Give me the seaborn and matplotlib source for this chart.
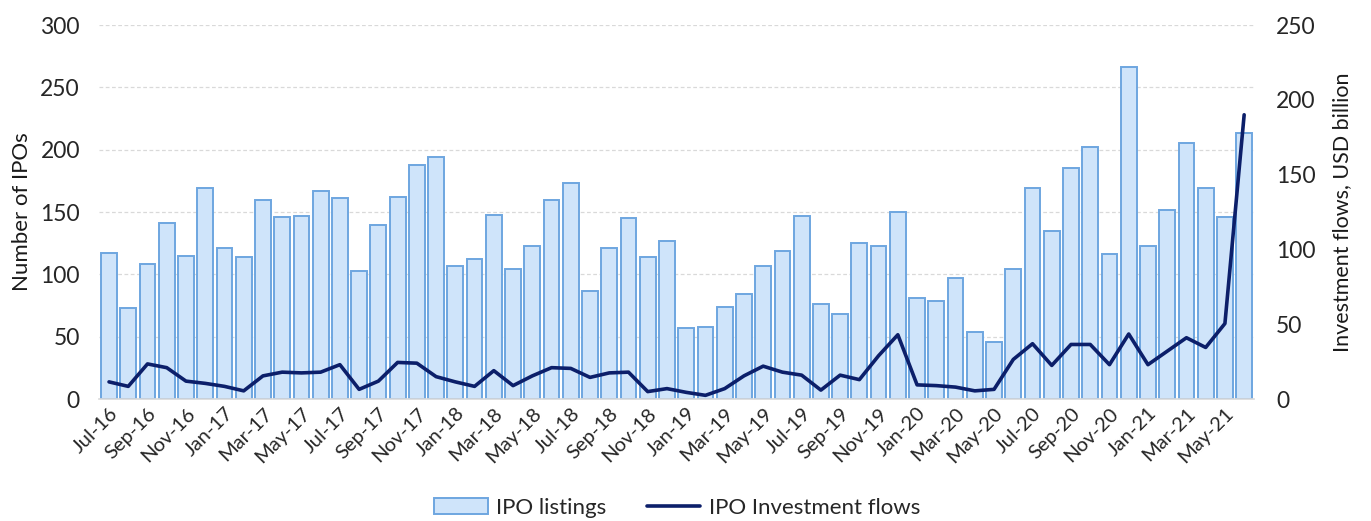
import numpy as np
import pandas as pd
import matplotlib
matplotlib.use("Agg")
import matplotlib.pyplot as plt
import seaborn as sns
from matplotlib.patches import Patch
from matplotlib.lines import Line2D

months = ["Jul-16", "Aug-16", "Sep-16", "Oct-16", "Nov-16", "Dec-16",
          "Jan-17", "Feb-17", "Mar-17", "Apr-17", "May-17", "Jun-17",
          "Jul-17", "Aug-17", "Sep-17", "Oct-17", "Nov-17", "Dec-17",
          "Jan-18", "Feb-18", "Mar-18", "Apr-18", "May-18", "Jun-18",
          "Jul-18", "Aug-18", "Sep-18", "Oct-18", "Nov-18", "Dec-18",
          "Jan-19", "Feb-19", "Mar-19", "Apr-19", "May-19", "Jun-19",
          "Jul-19", "Aug-19", "Sep-19", "Oct-19", "Nov-19", "Dec-19",
          "Jan-20", "Feb-20", "Mar-20", "Apr-20", "May-20", "Jun-20",
          "Jul-20", "Aug-20", "Sep-20", "Oct-20", "Nov-20", "Dec-20",
          "Jan-21", "Feb-21", "Mar-21", "Apr-21", "May-21", "Jun-21"]

ipo_listings = [117, 73, 108, 141, 115, 169,
                121, 114, 160, 146, 147, 167,
                161, 103, 140, 162, 188, 194,
                107, 112, 148, 104, 123, 160,
                173, 87, 121, 145, 114, 127,
                57, 58, 74, 84, 107, 119,
                147, 76, 68, 125, 123, 150,
                81, 79, 97, 54, 46, 104,
                169, 135, 185, 202, 116, 266,
                123, 152, 205, 169, 146, 213]

investment_flows = [11.5, 8.5, 23.5, 21, 12, 10.5,
                    8.5, 5.5, 15.5, 18, 17.5, 18,
                    23, 6.5, 12, 24.5, 24, 15,
                    11.5, 8.5, 19, 9, 15.5, 21,
                    20.5, 14.5, 17.5, 18, 5, 7,
                    4.5, 2.5, 7, 15.5, 22, 18,
                    16, 6, 16, 13, 29, 43,
                    9.5, 9, 8, 5.5, 6.5, 26.5,
                    37, 22.5, 36.5, 36.5, 23, 43.5,
                    23, 32, 41, 34.5, 50.5, 190]

df = pd.DataFrame({"month": months,
                   "listings": ipo_listings,
                   "flows": investment_flows,
                   "pos": np.arange(len(months))})

sns.set_theme(style="white")
plt.rcParams["font.family"] = ["Lato", "DejaVu Sans"]

bar_fill = "#cfe4fa"
bar_edge = "#6ea6e0"
line_col = "#0c1f6a"
text_col = "#262626"

fig = plt.figure(figsize=(13.71, 5.21), dpi=100)
ax = fig.add_axes([0.0725, 0.234, 0.842, 0.718])

sns.barplot(data=df, x="month", y="listings", order=months, ax=ax,
            color=bar_fill, edgecolor=bar_edge, linewidth=1.4,
            width=0.82, saturation=1)

ax.set_ylim(0, 300)
ax.set_yticks(np.arange(0, 301, 50))
ax.set_xlim(-0.5, len(months) - 0.5)
ax.yaxis.grid(True, color="#d9d9d9", linestyle=(0, (3, 2)), linewidth=0.9)
ax.set_axisbelow(True)
for s in ["top", "right", "left"]:
    ax.spines[s].set_visible(False)
ax.spines["bottom"].set_color("#d9d9d9")
ax.spines["bottom"].set_linewidth(1.2)

ax.set_xticks(np.arange(0, len(months), 2))
ax.set_xticklabels(months[::2], rotation=45, ha="right",
                   rotation_mode="anchor", fontsize=14.5, color=text_col)
ax.tick_params(axis="x", length=0, pad=4)
ax.tick_params(axis="y", length=0, labelsize=16.5, labelcolor=text_col, pad=14)
ax.set_xlabel("")
ax.set_ylabel("Number of IPOs", fontsize=16, color="#1a1a1a", labelpad=6)

ax2 = ax.twinx()
sns.lineplot(data=df, x="pos", y="flows", ax=ax2, color=line_col,
             linewidth=2.6, legend=False)
ax2.set_ylim(0, 250)
ax2.set_yticks(np.arange(0, 251, 50))
ax2.set_xlim(-0.5, len(months) - 0.5)
for s in ["top", "right", "left", "bottom"]:
    ax2.spines[s].set_visible(False)
ax2.tick_params(axis="y", length=0, labelsize=16.5, labelcolor=text_col, pad=16)
ax2.set_ylabel("Investment flows, USD billion", fontsize=15.5,
               color="#1a1a1a", labelpad=12)
ax2.grid(False)

handles = [Patch(facecolor=bar_fill, edgecolor=bar_edge, linewidth=1.4),
           Line2D([0], [0], color=line_col, linewidth=2.6)]
fig.legend(handles, ["IPO listings", "IPO Investment flows"],
           loc="center", bbox_to_anchor=(0.494, 0.025), ncol=2, frameon=False,
           fontsize=16, handlelength=2.4, handleheight=0.7,
           handletextpad=0.4, columnspacing=1.8, labelcolor=text_col)

fig.savefig("out.png", dpi=100)
